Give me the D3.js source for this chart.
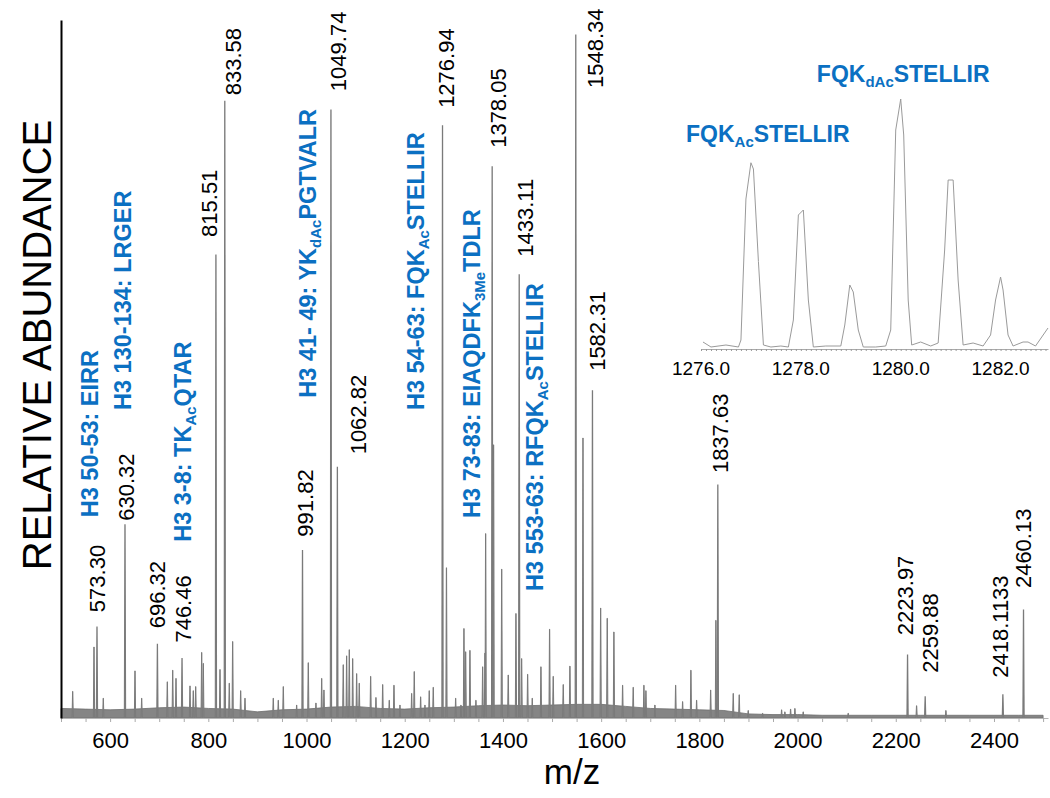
<!DOCTYPE html>
<html>
<head>
<meta charset="utf-8">
<script src="https://cdn.jsdelivr.net/npm/d3@7"></script>
<style>
  body { margin: 0; background: #fff; }
  svg { display: block; font-family: "Liberation Sans", Arial, sans-serif; }
</style>
</head>
<body>
<div id="chart"></div>
<script>
// labelled peaks (m/z, relative abundance)
const labelMz = [573.30, 630.32, 696.32, 746.46, 815.51, 833.58, 991.82, 1049.74, 1062.82, 1276.94,
  1378.05, 1433.11, 1548.34, 1582.31, 1837.63, 2223.97, 2259.88, 2418.1133, 2460.13];
const labelText = ["573.30", "630.32", "696.32", "746.46", "815.51", "833.58", "991.82", "1049.74", "1062.82", "1276.94",
  "1378.05", "1433.11", "1548.34", "1582.31", "1837.63", "2223.97", "2259.88", "2418.1133", "2460.13"];
const labelInt = [13.3, 28.3, 10.8, 8.7, 67.8, 90.3, 24.5, 89.0, 36.7, 86.7,
  80.7, 64.9, 100, 47.9, 34.1, 9.2, 3.1, 3.4, 15.8];

// unlabelled peaks
const minorPeaks = [
  [523.8, 3.9], [567.2, 10.4], [586.1, 2.9], [650.7, 6.9], [664.3, 2.9], [716.5, 5.3], [727.5, 7.0],
  [734.2, 5.8], [762.7, 4.7], [769.4, 4.0], [774.3, 4.6], [786.5, 9.6], [789.8, 8.0], [823.8, 7.1],
  [842.7, 5.1], [849.6, 11.2], [865.9, 4.0], [874.7, 2.9], [932.3, 2.9], [942.5, 2.6], [952.7, 4.6],
  [979.9, 1.9], [1003.6, 8.1], [1019.2, 2.2], [1030.9, 5.8], [1035.5, 4.1], [1074.8, 7.8], [1081.7, 9.1],
  [1087.1, 10.0], [1094.0, 8.7], [1102.1, 6.5], [1107.4, 5.1], [1130.6, 6.1], [1141.4, 3.0], [1155.1, 4.9],
  [1168.5, 2.6], [1178.1, 4.8], [1190.3, 1.9], [1214.1, 3.6], [1219.4, 6.8], [1232.4, 3.1], [1241.2, 1.9],
  [1249.9, 4.0], [1258.1, 4.5], [1285.0, 22], [1303.7, 2.9], [1314.5, 1.9], [1320.6, 13.1], [1324.1, 9.7],
  [1332.8, 9.9], [1345.0, 2.6], [1358.7, 7.5], [1363.4, 9.5], [1364.8, 27], [1381.0, 40], [1397.5, 21.8],
  [1410.8, 6.3], [1426.5, 15.3], [1438.1, 8.7], [1450.3, 6.4], [1459.7, 2.9], [1477.4, 7.5], [1495.0, 13],
  [1502.4, 6.1], [1522.8, 4.9], [1536.4, 7.6], [1563.0, 41], [1599.0, 16.1], [1612.4, 14.6], [1626.0, 12.6],
  [1643.7, 4.8], [1665.3, 4.5], [1687.1, 4.8], [1691.2, 4.0], [1709.5, 1.9], [1751.7, 4.8], [1765.9, 2.4],
  [1782.8, 7.0], [1794.4, 2.6], [1823.0, 4.1], [1833.7, 14.3], [1869.0, 3.6], [1881.2, 3.4], [1899.5, 1.1],
  [1928.8, 0.7], [1967.5, 1.2], [1974.2, 0.9], [1985.8, 1.3], [1994.6, 1.4], [2011.5, 0.9], [2103.1, 0.7],
  [2242.4, 1.8], [2302.1, 1.1]
];

// baseline noise level every 50 m/z from 500 to 2500
const noiseLevel = [1.4, 1.3, 1.2, 1.3, 1.5, 1.6, 1.4, 1.3, 0.9, 1.2, 1.3, 1.6, 1.7, 1.4, 1.3, 1.5, 1.6,
  1.8, 1.9, 1.8, 1.9, 2.0, 2.0, 1.7, 1.4, 1.3, 1.2, 1.1, 0.6, 0.5, 0.5, 0.4, 0.4, 0.4, 0.4, 0.4, 0.4,
  0.4, 0.4, 0.4, 0.4];

const xTickLabels = [600, 800, 1000, 1200, 1400, 1600, 1800, 2000, 2200, 2400];

// peptide annotations: [normal, subscript, normal, ...]
const annotations = [
  ["H3 50-53: EIRR"],
  ["H3 130-134: LRGER"],
  ["H3 3-8: TK", "Ac", "QTAR"],
  ["H3 41- 49: YK", "dAc", "PGTVALR"],
  ["H3 54-63: FQK", "Ac", "STELLIR"],
  ["H3 73-83: EIAQDFK", "3Me", "TDLR"],
  ["H3 553-63: RFQK", "Ac", "STELLIR"]
];

// inset zoom of the 1276-1283 region
const insetMz = [1276.04, 1276.2, 1276.5, 1276.75, 1276.8, 1276.9, 1277.0, 1277.05, 1277.15, 1277.25,
  1277.4, 1277.6, 1277.75, 1277.85, 1277.95, 1278.05, 1278.15, 1278.25, 1278.5, 1278.8,
  1278.88, 1278.98, 1279.05, 1279.15, 1279.25, 1279.5, 1279.7, 1279.8, 1279.9, 1280.0,
  1280.06, 1280.15, 1280.22, 1280.4, 1280.6, 1280.75, 1280.88, 1280.95, 1281.05, 1281.15,
  1281.25, 1281.45, 1281.65, 1281.8, 1281.9, 1282.0, 1282.05, 1282.15, 1282.25, 1282.45,
  1282.55, 1282.7, 1282.95];
const insetInt = [2.8, 0.8, 1.6, 0.8, 3.6, 60, 74.5, 72, 35, 1.6,
  0.8, 1.2, 0.8, 11.6, 53.6, 55.6, 19.6, 0.8, 1.2, 1.2,
  9.6, 25.6, 22.8, 7.6, 0.8, 0.8, 1.2, 7.6, 87.6, 100,
  85.6, 19.6, 1.6, 2.8, 1.2, 2.4, 39.6, 67.6, 67.6, 27.6,
  1.6, 2.4, 1.2, 5.6, 19.6, 28.8, 23.6, 5.6, 1.2, 2.8,
  2.8, 1.2, 8.4];
const insetTickLabels = [1276, 1278, 1280, 1282];
const insetTitles = [["FQK", "Ac", "STELLIR"], ["FQK", "dAc", "STELLIR"]];

// ---- layout (kept apart from the data) ----
const labelNudge = [[0, 15], [1.5, 4], [0, 16], [1, 16], [-7, 18], [8, 6], [2.5, 14], [7, 19], [21, 13], [4, 18],
  [6, 19], [6, 18], [19, -53], [5, 20], [2, 12], [-2, 20], [5, 24], [-3, 17], [0, 22]];
const annoAnchor = [[559, 29.4], [626, 45.1], [748, 25.8], [1003, 46.9], [1221, 45.1], [1337, 29.3], [1465, 18.6]];
const insetTitleAnchor = [[1275.7, 82.8], [1278.32, 106.8]];

const width = 1050;
const height = 798;
const blue = "#0b70c2";
const peakColor = "#7a7a7a";

const svg = d3.select("#chart").append("svg")
  .attr("width", width)
  .attr("height", height);

// scales
const x = d3.scaleLinear().domain([500, 2510]).range([61, 1048]);
const y = d3.scaleLinear().domain([0, 102.2]).range([718, 20]);

// baseline noise band
const noiseData = noiseLevel.map((v, i) => [500 + i * 50, v]);
svg.append("path")
  .datum(noiseData)
  .attr("fill", "#858585")
  .attr("stroke", "#6e6e6e")
  .attr("stroke-width", 0.8)
  .attr("d", d3.area().x(d => x(d[0])).y0(y(0)).y1(d => y(d[1])));

// peaks as narrow sticks
const peakLine = d3.line().x(d => x(d[0])).y(d => y(d[1]));
const shape = (mz, h) => [[mz - 1.3, 0], [mz - 0.2, h], [mz + 0.2, h], [mz + 1.3, 0]];

svg.append("g")
  .selectAll("path")
  .data(minorPeaks)
  .join("path")
  .attr("d", d => peakLine(shape(d[0], d[1])))
  .attr("fill", "#8a8a8a")
  .attr("stroke", peakColor)
  .attr("stroke-width", 1);

svg.append("g")
  .selectAll("path")
  .data(labelMz)
  .join("path")
  .attr("d", (d, i) => peakLine(shape(d, labelInt[i])))
  .attr("fill", "#8a8a8a")
  .attr("stroke", peakColor)
  .attr("stroke-width", 1.1);

// x axis
const xAxis = svg.append("g")
  .attr("transform", `translate(0,${y(0)})`)
  .call(d3.axisBottom(x)
    .tickValues(d3.range(500, 2501, 50))
    .tickSize(4)
    .tickSizeOuter(0)
    .tickPadding(10)
    .tickFormat(d => xTickLabels.includes(d) ? d : ""));
xAxis.select(".domain").attr("stroke", "#b5b5b5");
xAxis.selectAll(".tick line").attr("stroke", "#aaa");
xAxis.selectAll(".tick text")
  .style("font-size", "22px")
  .style("font-family", "'Liberation Sans', Arial, sans-serif")
  .attr("fill", "#000");

// y axis: just the black spine
svg.append("g")
  .attr("transform", `translate(${x(500)},0)`)
  .call(d3.axisLeft(y).tickValues([]).tickSizeOuter(0))
  .select(".domain")
  .attr("stroke", "#000")
  .attr("stroke-width", 2);

// axis titles
svg.append("text")
  .attr("transform", `translate(51,345) rotate(-90)`)
  .attr("text-anchor", "middle")
  .style("font-size", "40px")
  .text("RELATIVE ABUNDANCE");

svg.append("text")
  .attr("x", 572)
  .attr("y", 784)
  .attr("text-anchor", "middle")
  .style("font-size", "35px")
  .text("m/z");

// numeric peak labels (rotated)
const numFont = 22;
svg.append("g")
  .selectAll("text")
  .data(labelMz)
  .join("text")
  .attr("transform", (d, i) => {
    const cx = x(d) + labelNudge[i][0] + numFont * 0.36;
    const by = y(labelInt[i]) - labelNudge[i][1];
    return `translate(${cx},${by}) rotate(-90)`;
  })
  .style("font-size", numFont + "px")
  .attr("fill", "#000")
  .text((d, i) => labelText[i]);

// text with subscripts
function richText(sel, parts, big, small, shift) {
  parts.forEach((p, k) => {
    const isSub = k % 2 === 1;
    sel.append("tspan")
      .attr("dy", isSub ? shift : (k > 0 ? -shift : 0))
      .style("font-size", (isSub ? small : big) + "px")
      .text(p);
  });
}

// peptide annotations (rotated, blue, bold)
const annoFont = 23.5;
annotations.forEach((parts, i) => {
  const t = svg.append("text")
    .attr("transform", `translate(${x(annoAnchor[i][0]) + annoFont * 0.36},${y(annoAnchor[i][1])}) rotate(-90)`)
    .attr("fill", blue)
    .style("font-weight", "bold");
  richText(t, parts, annoFont, 15, 5);
});

// ---- inset ----
const xi = d3.scaleLinear().domain([1276, 1282.95]).range([701, 1048]);
const yi = d3.scaleLinear().domain([0, 100]).range([349, 99]);

const inset = svg.append("g");

const insetAxis = inset.append("g")
  .attr("transform", `translate(0,${yi(0)})`)
  .call(d3.axisBottom(xi)
    .tickValues(d3.range(0, 70).map(k => 1276 + k * 0.1))
    .tickSize(2)
    .tickSizeOuter(0)
    .tickPadding(8)
    .tickFormat(() => ""));
insetAxis.select(".domain").attr("stroke", "#aaa");
insetAxis.selectAll(".tick line").attr("stroke", "#999");

inset.selectAll(".inset-label")
  .data(insetTickLabels)
  .join("text")
  .attr("class", "inset-label")
  .attr("x", d => xi(d))
  .attr("y", 375)
  .attr("text-anchor", "middle")
  .style("font-size", "19px")
  .text(d => d.toFixed(1));

inset.append("path")
  .datum(insetMz.map((m, i) => [m, insetInt[i]]))
  .attr("fill", "none")
  .attr("stroke", "#9a9a9a")
  .attr("stroke-width", 1)
  .attr("d", d3.line().x(d => xi(d[0])).y(d => yi(d[1])));

insetTitles.forEach((parts, i) => {
  const t = inset.append("text")
    .attr("x", xi(insetTitleAnchor[i][0]))
    .attr("y", yi(insetTitleAnchor[i][1]))
    .attr("fill", blue)
    .style("font-weight", "bold");
  richText(t, parts, 23, 15, 5);
});
</script>
</body>
</html>
